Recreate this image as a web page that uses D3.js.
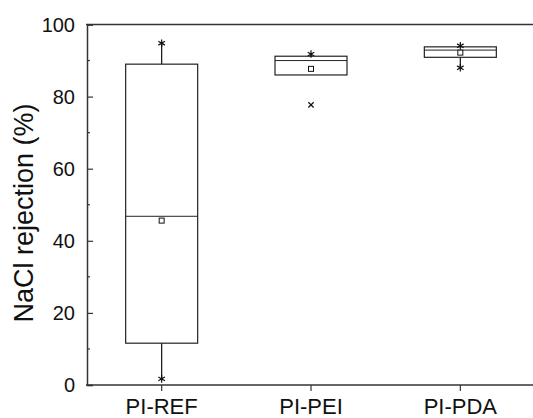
<!DOCTYPE html>
<html>
<head>
<meta charset="utf-8">
<script src="https://cdn.jsdelivr.net/npm/d3@7"></script>
<style>
  body { margin: 0; background: #fff; }
  text { font-family: "Liberation Sans", Arial, sans-serif; fill: #111; }
</style>
</head>
<body>
<svg id="chart" width="533" height="418"></svg>
<script>
// data
var categories = ["PI-REF", "PI-PEI", "PI-PDA"];
var q1     = [11.6, 86.0, 90.9];
var median = [46.8, 90.0, 92.9];
var q3     = [89.0, 91.2, 93.8];
var mean   = [45.6, 87.7, 92.2];
var whiskLo = [1.7, 86.0, 88.0];
var whiskHi = [94.8, 91.8, 94.1];
var outliers = [[], [77.7], []];
var yTicks = [0, 20, 40, 60, 80, 100];

var svg = d3.select("#chart");

var x = d3.scaleBand().domain(categories).range([87, 535]);
var y = d3.scaleLinear().domain([0, 100]).range([385, 24.5]);

var boxW = 72;
var axisCol = "#333";

// frame top line
svg.append("line")
    .attr("x1", 86).attr("x2", 533)
    .attr("y1", y(100)).attr("y2", y(100))
    .attr("stroke", axisCol).attr("stroke-width", 1.5);

// y axis, ticks pointing inwards
var yAxis = svg.append("g")
    .attr("transform", "translate(87,0)")
    .call(d3.axisRight(y).tickValues(yTicks).tickSize(6).tickFormat(""));
yAxis.select(".domain").attr("stroke", axisCol).attr("stroke-width", 1.5);
yAxis.selectAll(".tick line").attr("stroke", axisCol).attr("stroke-width", 1.2);

// minor ticks
svg.append("g").selectAll("line")
    .data([10, 30, 50, 70, 90])
    .join("line")
    .attr("x1", 87).attr("x2", 90)
    .attr("y1", function(d) { return y(d); })
    .attr("y2", function(d) { return y(d); })
    .attr("stroke", axisCol).attr("stroke-width", 1.2);

svg.append("g").selectAll("text")
    .data(yTicks)
    .join("text")
    .attr("x", 75)
    .attr("y", function(d) { return y(d); })
    .attr("dy", "0.36em")
    .attr("text-anchor", "end")
    .attr("font-size", 20)
    .text(function(d) { return d; });

// x axis
var xAxis = svg.append("g")
    .attr("transform", "translate(0," + y(0) + ")")
    .call(d3.axisBottom(x).tickSize(6).tickSizeOuter(0).tickFormat(""));
xAxis.select(".domain").attr("d", "M86,0H533").attr("stroke", axisCol).attr("stroke-width", 1.5);
xAxis.selectAll(".tick line").attr("stroke", axisCol).attr("stroke-width", 1.2);

svg.append("g").selectAll("text")
    .data(categories)
    .join("text")
    .attr("x", function(d) { return x(d) + x.bandwidth() / 2; })
    .attr("y", 414)
    .attr("text-anchor", "middle")
    .attr("font-size", 22)
    .text(function(d) { return d; });

// y label
svg.append("text")
    .attr("transform", "translate(33,213) rotate(-90)")
    .attr("text-anchor", "middle")
    .attr("font-size", 27)
    .text("NaCl rejection (%)");

// boxes
var idx = d3.range(categories.length);
var cx = function(i) { return x(categories[i]) + x.bandwidth() / 2; };
var g = svg.append("g");

g.selectAll(".whisk").data(idx).join("line")
    .attr("x1", cx).attr("x2", cx)
    .attr("y1", function(i) { return y(whiskLo[i]); })
    .attr("y2", function(i) { return y(whiskHi[i]); })
    .attr("stroke", "#111").attr("stroke-width", 1.2);

g.selectAll(".box").data(idx).join("rect")
    .attr("x", function(i) { return cx(i) - boxW / 2; })
    .attr("y", function(i) { return y(q3[i]); })
    .attr("width", boxW)
    .attr("height", function(i) { return y(q1[i]) - y(q3[i]); })
    .attr("fill", "#fff").attr("stroke", "#222").attr("stroke-width", 1.2);

g.selectAll(".med").data(idx).join("line")
    .attr("x1", function(i) { return cx(i) - boxW / 2; })
    .attr("x2", function(i) { return cx(i) + boxW / 2; })
    .attr("y1", function(i) { return y(median[i]); })
    .attr("y2", function(i) { return y(median[i]); })
    .attr("stroke", "#222").attr("stroke-width", 1);

g.selectAll(".mean").data(idx).join("rect")
    .attr("x", function(i) { return cx(i) - 2.5; })
    .attr("y", function(i) { return y(mean[i]) - 2.5; })
    .attr("width", 5).attr("height", 5)
    .attr("fill", "#fff").attr("stroke", "#111").attr("stroke-width", 1);

// min/max asterisks
var star = d3.symbol().type(d3.symbolAsterisk).size(40);
var ends = [];
idx.forEach(function(i) {
  ends.push({ i: i, v: whiskLo[i] });
  ends.push({ i: i, v: whiskHi[i] });
});
g.selectAll(".star").data(ends.filter(function(d) { return !(d.i === 1 && d.v === whiskLo[1]); }))
  .join("path")
    .attr("d", star)
    .attr("transform", function(d) { return "translate(" + cx(d.i) + "," + y(d.v) + ")"; })
    .attr("fill", "none").attr("stroke", "#111").attr("stroke-width", 1.2);

var outs = [];
idx.forEach(function(i) { outliers[i].forEach(function(v) { outs.push({ i: i, v: v }); }); });
g.selectAll(".out").data(outs).join("path")
    .attr("d", d3.symbol().type(d3.symbolX).size(20))
    .attr("transform", function(d) { return "translate(" + cx(d.i) + "," + y(d.v) + ")"; })
    .attr("fill", "none").attr("stroke", "#111").attr("stroke-width", 1.2);
</script>
</body>
</html>
